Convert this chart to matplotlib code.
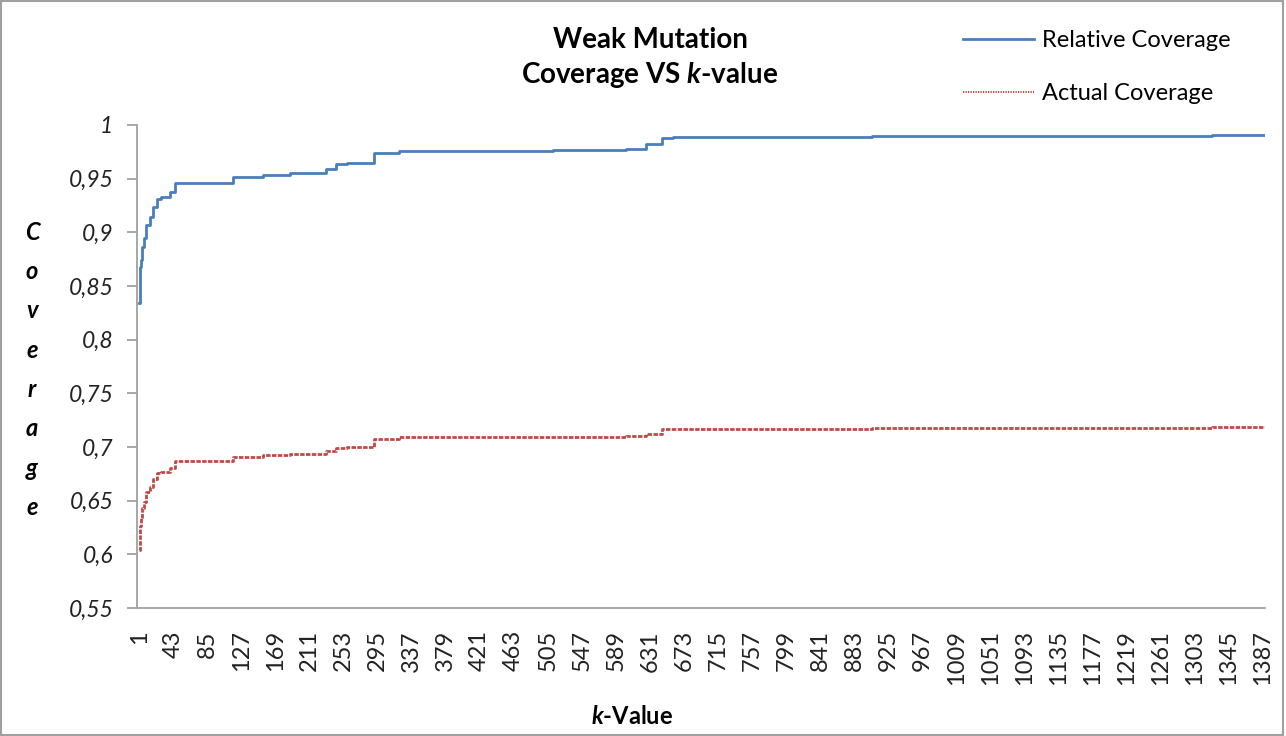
import matplotlib
matplotlib.use("Agg")
import matplotlib.pyplot as plt
from matplotlib.patches import Rectangle

plt.rcParams['font.family'] = ['Lato', 'DejaVu Sans']
plt.rcParams['mathtext.fontset'] = 'custom'
plt.rcParams['mathtext.it'] = 'Lato:bold:italic'
plt.rcParams['mathtext.rm'] = 'Lato:bold'

# step points of the two series (k where the value changes, value from there on)
k_steps = [1, 2, 3, 5, 7, 10, 14, 18, 23, 28, 39, 45, 117, 154, 187, 232, 244,
           257, 291, 322, 511, 601, 626, 646, 659, 905, 1324, 1389]
relative_cov = [0.834, 0.868, 0.874, 0.886, 0.895, 0.907, 0.914, 0.924, 0.931,
                0.933, 0.938, 0.946, 0.952, 0.953, 0.955, 0.959, 0.9636, 0.965,
                0.974, 0.976, 0.977, 0.978, 0.982, 0.988, 0.989, 0.990, 0.991,
                0.991]
actual_cov = [0.604, 0.626, 0.634, 0.643, 0.649, 0.658, 0.663, 0.670, 0.6755,
              0.677, 0.680, 0.6865, 0.691, 0.6923, 0.6935, 0.6966, 0.699,
              0.7003, 0.707, 0.709, 0.7095, 0.710, 0.7125, 0.7165, 0.7172,
              0.7178, 0.719, 0.719]

x_ticks = list(range(1, 1388, 42))
y_ticks = [0.55, 0.6, 0.65, 0.7, 0.75, 0.8, 0.85, 0.9, 0.95, 1.0]
y_labels = ['0,55', '0,6', '0,65', '0,7', '0,75', '0,8', '0,85', '0,9', '0,95', '1']

W, H = 1286, 736
fig = plt.figure(figsize=(W / 100, H / 100), dpi=100)
ax = fig.add_axes([137 / W, 1 - 608 / H, (1265 - 137) / W, (608 - 125) / H])

blue = '#4a7ebb'
red = '#be4b48'
grey = '#a0a0a0'

ax.step(k_steps, relative_cov, where='post', color=blue, lw=2.0,
        label='Relative Coverage')
ax.step(k_steps, actual_cov, where='post', color=red, lw=2.0,
        linestyle=(0, (1.6, 0.5)), label='Actual Coverage')

ax.set_xlim(-1.5, 1389.5)
ax.set_ylim(0.55, 1.0)
ax.set_xticks(x_ticks)
ax.set_xticklabels([str(t) for t in x_ticks], rotation=90, fontsize=17)
ax.set_yticks(y_ticks)
ax.set_yticklabels(y_labels, fontsize=16.5, style='italic')

for s in ['top', 'right']:
    ax.spines[s].set_visible(False)
for s in ['left', 'bottom']:
    ax.spines[s].set_color(grey)
    ax.spines[s].set_linewidth(1.3)
ax.tick_params(axis='y', direction='out', length=7, width=1.3, color=grey,
               pad=10, labelcolor='#222222')
ax.tick_params(axis='x', length=0, pad=16, labelcolor='#222222')

# title
fig.text(650 / W, 1 - 40 / H, 'Weak Mutation', ha='center', va='center',
         fontsize=20, fontweight='bold')
fig.text(650 / W, 1 - 75 / H, 'Coverage VS $k$-value', ha='center',
         va='center', fontsize=20, fontweight='bold')

# axis labels
fig.text(632 / W, 1 - 716 / H, '$k$-Value', ha='center', va='center',
         fontsize=17, fontweight='bold')
for i, ch in enumerate('Coverage'):
    fig.text(32 / W, 1 - (232 + i * 39.4) / H, ch, ha='center', va='center',
             fontsize=17, fontweight='bold', style='italic')

leg = fig.legend(loc='upper left', bbox_to_anchor=(963 / W, 1 - 30 / H),
                 frameon=False, fontsize=17, handlelength=3.0,
                 handletextpad=0.35, labelspacing=1.35, borderpad=0,
                 borderaxespad=0)
leg.get_lines()[1].set_linestyle((0, (0.6, 0.6)))
leg.get_lines()[1].set_linewidth(1.5)

fig.add_artist(Rectangle((0.001, 0.001), 0.997, 0.997, transform=fig.transFigure,
                         fill=False, edgecolor=grey, lw=1.5))

fig.savefig('out.png', dpi=100)
